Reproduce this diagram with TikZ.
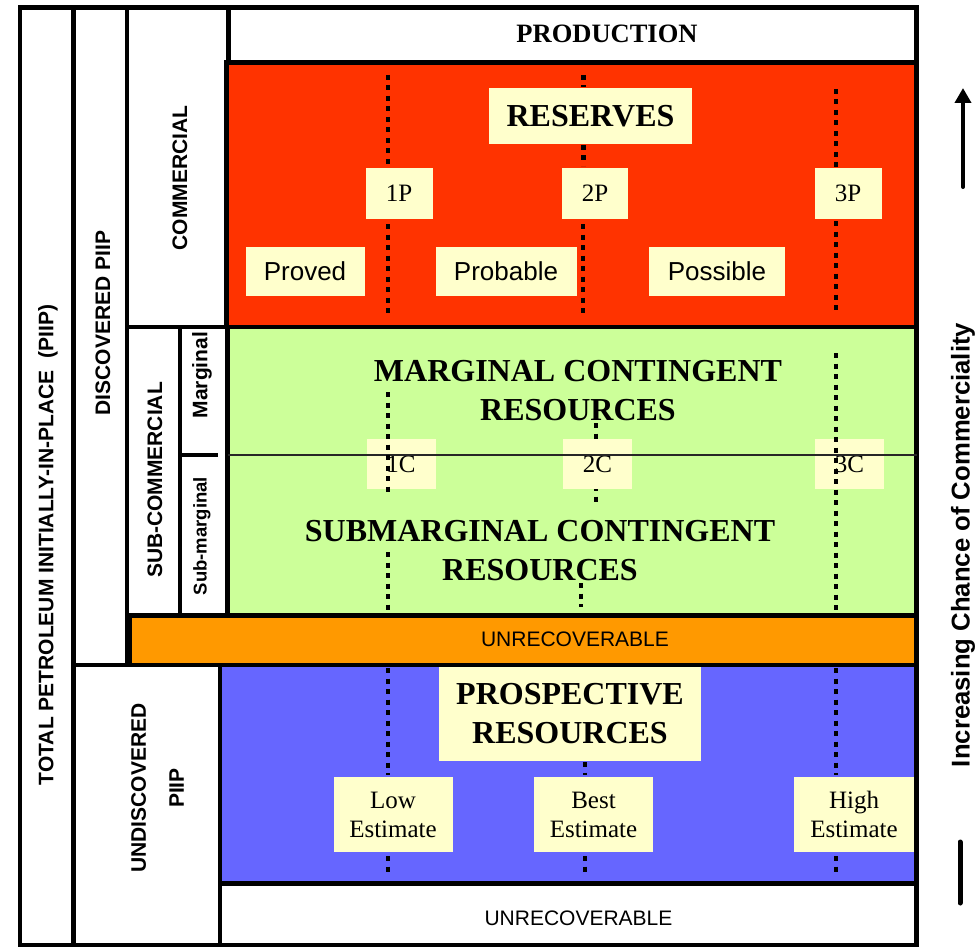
\documentclass[tikz,border=0pt]{standalone}
\usepackage{fontspec}
\setmainfont{Liberation Serif}
\setsansfont{Liberation Sans}
\usetikzlibrary{arrows.meta}

\definecolor{resred}{HTML}{FF3300}
\definecolor{resgreen}{HTML}{CCFF99}
\definecolor{resorange}{HTML}{FF9900}
\definecolor{resblue}{HTML}{6666FF}
\definecolor{tagyellow}{HTML}{FFFFCC}

\newcommand{\txtsz}[2]{\fontsize{#1pt}{#2pt}\selectfont}

\tikzset{
  cell/.style={draw=black, line width=4.5pt},
  bound/.style={line width=4.5pt, dash pattern=on 5pt off 5.5pt},
  split/.style={draw=black!85, line width=1.5pt},
  title/.style={font=\bfseries\txtsz{32}{39}, align=center, inner sep=0pt},
  tag/.style={fill=tagyellow, inner sep=0pt, align=center, font=\txtsz{25}{29}},
  wordtag/.style={fill=tagyellow, inner sep=0pt, font=\sffamily\txtsz{26}{30}},
  side/.style={rotate=90, inner sep=0pt, align=center, font=\sffamily\bfseries\txtsz{21}{38}},
  plain/.style={inner sep=0pt, font=\sffamily\txtsz{21}{25}}
}

\begin{document}
\begin{tikzpicture}[x=1pt, y=-1pt]
\useasboundingbox (0,0) rectangle (980,947);

% frame and classification columns
\draw[cell, fill=white] (20,7.5) rectangle (916.5,945);
\draw[cell] (73.5,7.5) rectangle (127,665);
\draw[cell] (127,7.5) rectangle (228.5,327);
\draw[cell] (127,327) rectangle (180,615.5);
\draw[cell] (180,327) rectangle (227.5,615.5);
\draw[cell] (180,455) -- (218,455);
\draw[cell] (73.5,665) rectangle (220,945);

% resource classes
\draw[cell, fill=white] (228.5,7.5) rectangle (916.5,62.5);
\draw[cell, fill=resred] (226.5,62.5) rectangle (916.5,327);
\draw[cell, fill=resgreen] (227.5,327) rectangle (916.5,615.5);
\draw[cell, fill=resorange] (130,615.5) rectangle (916.5,665);
\draw[cell, fill=resblue] (220,665) rectangle (916.5,883.5);
\draw[cell, fill=white] (220,883.5) rectangle (916.5,945);

% uncertainty boundaries in the reserves
\draw[bound] (388,75) -- (388,164);
\draw[bound] (388,224) -- (388,313);
\draw[bound] (583.5,75) -- (583.5,87);
\draw[bound] (583.5,145) -- (583.5,166);
\draw[bound] (583,224) -- (583,313);
\draw[bound] (836,89) -- (836,167);
\draw[bound] (836,221) -- (836,313);

% uncertainty boundaries in the prospective resources
\draw[bound] (388,668) -- (388,775);
\draw[bound] (388,856) -- (388,872);
\draw[bound] (585,762) -- (585,775);
\draw[bound] (585,856) -- (585,872);
\draw[bound] (836,668) -- (836,775);
\draw[bound] (836,856) -- (836,872);

% 2C boundary runs behind its tag
\draw[bound] (596,423) -- (596,503);
\draw[bound] (581,583) -- (581,607);

% reserves labels
\node[inner sep=0pt] (prod) at (607,34) {\bfseries\txtsz{26.5}{30}PRODUCTION};
\node[tag, minimum width=203pt, minimum height=56pt, font=\bfseries\txtsz{32}{36}] (reserves) at (590.5,116) {RESERVES};
\node[tag, minimum width=67pt, minimum height=51pt] (p1) at (399,193.5) {1P};
\node[tag, minimum width=66pt, minimum height=51pt] (p2) at (595,193.5) {2P};
\node[tag, minimum width=67pt, minimum height=51pt] (p3) at (848,193.5) {3P};
\node[wordtag, minimum width=119pt, minimum height=49pt] (proved) at (305,271.5) {Proved};
\node[wordtag, minimum width=141pt, minimum height=49pt] (probable) at (506,271.5) {Probable};
\node[wordtag, minimum width=136pt, minimum height=49pt] (possible) at (717,271.5) {Possible};

% contingent resources
\node[tag, minimum width=69pt, minimum height=50pt] (c1) at (401,464) {1C};
\node[tag, minimum width=69pt, minimum height=50pt] (c2) at (597.5,464) {2C};
\node[tag, minimum width=69pt, minimum height=50pt] (c3) at (849.5,464) {3C};
\draw[split] (227.5,455) -- (916.5,455);
\draw[bound] (388,392) -- (388,493);
\draw[bound] (388,552) -- (388,618);
\draw[bound] (836,353) -- (836,613);
\node[title] (marginal) at (578,390.5) {MARGINAL CONTINGENT\\RESOURCES};
\node[title] (submarginal) at (540,551) {SUBMARGINAL CONTINGENT\\RESOURCES};

% unrecoverable bands
\node[plain] (unrecA) at (575,639) {UNRECOVERABLE};
\node[plain] (unrecB) at (578.5,918.5) {UNRECOVERABLE};

% prospective resources
\node[tag, minimum width=262pt, minimum height=94pt, font=\bfseries\txtsz{32}{39}] (prospective) at (570,714) {PROSPECTIVE\\RESOURCES};
\node[tag, minimum width=119pt, minimum height=75pt] (low) at (393,814.5) {Low\\Estimate};
\node[tag, minimum width=119pt, minimum height=75pt] (best) at (593.5,814.5) {Best\\Estimate};
\node[tag, minimum width=120pt, minimum height=75pt] (high) at (854,814.5) {High\\Estimate};

% side headings
\node[side] (total) at (48,545) {TOTAL PETROLEUM INITIALLY-IN-PLACE\ \ (PIIP)};
\node[side] (discovered) at (103,323) {DISCOVERED PIIP};
\node[side] (commercial) at (180,178) {COMMERCIAL};
\node[side] (subcommercial) at (155,480) {SUB-COMMERCIAL};
\node[side] (marg) at (202,375) {Marginal};
\node[side, font=\sffamily\bfseries\txtsz{18.5}{22}] (submarg) at (202,536) {Sub-marginal};
\node[side] (undiscovered) at (157.5,788) {UNDISCOVERED\\PIIP};

% commerciality axis
\node[side, font=\sffamily\bfseries\txtsz{25.7}{30}] (chance) at (963,545) {Increasing Chance of Commerciality};
\coordinate (arrbase) at (963,187);
\coordinate (arrtip) at (963,88);
\draw[line width=4pt, line cap=round, -{Triangle[width=16pt,length=15pt]}] (arrbase) -- (arrtip);
\coordinate (barlo) at (960,903);
\coordinate (barhi) at (960,842);
\draw[line width=5pt, line cap=round] (barlo) -- (barhi);
\end{tikzpicture}
\end{document}
